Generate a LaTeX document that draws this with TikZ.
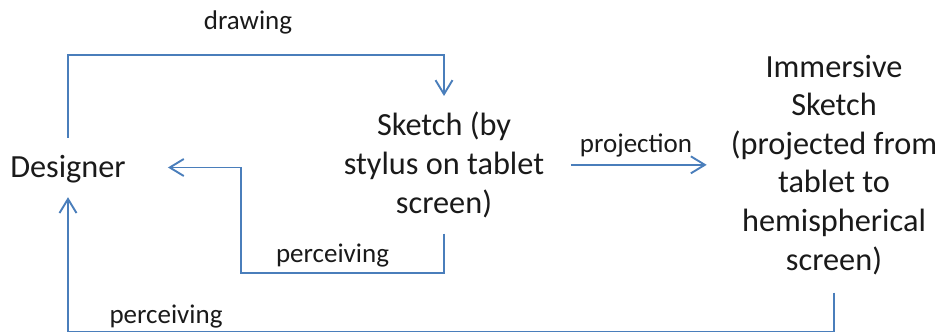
\documentclass[tikz,border=0pt]{standalone}
\usepackage{fontspec}
\setmainfont{Carlito}
\usetikzlibrary{arrows.meta}
\definecolor{linkblue}{HTML}{4A7EBB}
\definecolor{inkgray}{HTML}{1A1A1A}
\begin{document}
\begin{tikzpicture}[x=1pt,y=-1pt,
  mainnode/.style={text=inkgray, font=\fontsize{32.3}{38.6}\selectfont, align=center},
  edgelabel/.style={text=inkgray, font=\fontsize{27}{32}\selectfont, anchor=base, inner sep=0pt},
  link/.style={draw=linkblue, line width=1.9pt, line join=miter},
  tip/.style={-{Straight Barb[length=14pt,width=17pt,line width=1.9pt]}}
]
\useasboundingbox (0,0) rectangle (940,332);

% the three stages (multi-line nodes sit on the baseline of their last line)
\node[mainnode, text height=22pt, text depth=3pt, inner ysep=17pt, inner xsep=42pt]
  (designer) at (68,167.5) {Designer};
\node[mainnode, anchor=base, inner xsep=26.5pt, inner ysep=16pt]
  (sketch) at (444,213) {Sketch (by\\stylus on tablet\\screen)};
\node[mainnode, anchor=base, inner xsep=24pt, inner ysep=18pt]
  (immersive) at (834,270) {Immersive\\Sketch\\(projected from\\tablet to\\hemispherical\\screen)};

% bend points of the loops
\coordinate (toprail) at (0,55);
\coordinate (innerloop) at (241,273);
\coordinate (bottomrail) at (0,331.5);

% connectors
\draw[link, tip] (designer.north) |- (toprail -| sketch.north) -- (sketch.north);
\draw[link, tip] (sketch.south) |- (innerloop) |- (designer.east);
\draw[link, tip] (sketch.east) -- (sketch.east -| immersive.west);
\draw[link, tip] (immersive.south) |- (bottomrail -| designer.south) -- (designer.south);

% connector labels
\node[edgelabel] (lbldraw) at (248,29) {drawing};
\node[edgelabel] (lblproj) at (636,152) {projection};
\node[edgelabel] (lblperc1) at (332.5,262) {perceiving};
\node[edgelabel] (lblperc2) at (166,323) {perceiving};
\end{tikzpicture}
\end{document}
